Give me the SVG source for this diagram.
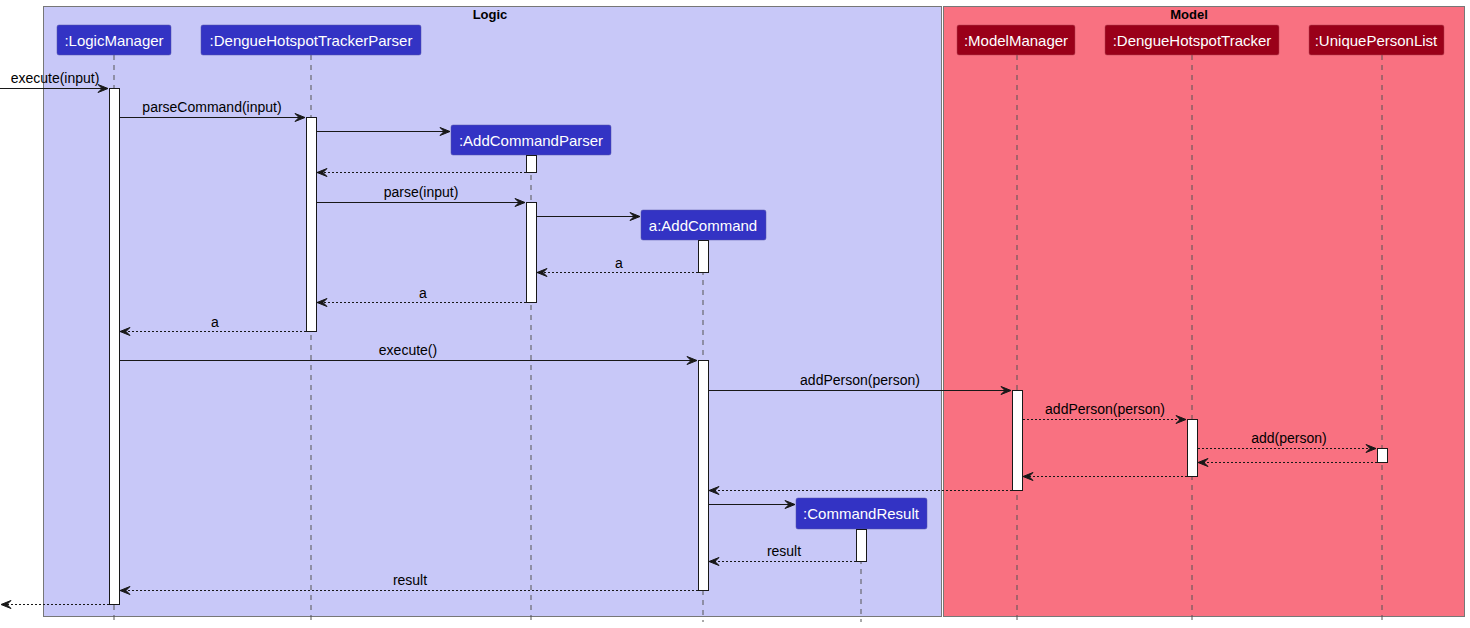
<svg xmlns="http://www.w3.org/2000/svg" width="1470" height="628" viewBox="0 0 1470 628">
<defs>
<marker id="ah" markerWidth="12" markerHeight="10" refX="11" refY="5" orient="auto" markerUnits="userSpaceOnUse">
<polygon points="1,1 11,5 1,9 5,5" fill="#181818" stroke="#181818" stroke-width="1"/>
</marker>
<style>
.frame-l{fill:#C8C8F8;stroke:#777;stroke-width:1}
.frame-m{fill:#F97181;stroke:#777;stroke-width:1}
.ftitle{font-family:"Liberation Sans",Arial,sans-serif;font-size:13px;font-weight:bold;fill:#000;text-anchor:middle}
.pl{fill:#3333C4;stroke:#5555aa;stroke-width:0.5}
.pm{fill:#9A0019;stroke:#b04050;stroke-width:0.5}
.pt{font-family:"Liberation Sans",Arial,sans-serif;font-size:15px;fill:#fff;text-anchor:middle}
.life{stroke:#555;stroke-width:1;stroke-dasharray:5,5}
.act{fill:#fff;stroke:#181818;stroke-width:1}
.msg{stroke:#181818;stroke-width:1;fill:none;marker-end:url(#ah)}
.ret{stroke:#181818;stroke-width:1;fill:none;stroke-dasharray:2,2;marker-end:url(#ah)}
.ml{font-family:"Liberation Sans",Arial,sans-serif;font-size:14px;fill:#000;text-anchor:middle}
</style>
</defs>
<rect width="1470" height="628" fill="#fff"/>
<g id="frame-logic">
<rect class="frame-l" x="43.5" y="6.5" width="898" height="610"/>
<text class="ftitle" x="490" y="19">Logic</text>
</g>
<g id="frame-model">
<rect class="frame-m" x="943.5" y="6.5" width="521" height="610"/>
<text class="ftitle" x="1189" y="19">Model</text>
</g>
<g id="lifelines">
<line class="life" x1="114" y1="55" x2="114" y2="622"/>
<line class="life" x1="311" y1="55" x2="311" y2="622"/>
<line class="life" x1="531" y1="155" x2="531" y2="622"/>
<line class="life" x1="703" y1="240" x2="703" y2="622"/>
<line class="life" x1="861" y1="529" x2="861" y2="622"/>
<line class="life" x1="1017" y1="55" x2="1017" y2="622"/>
<line class="life" x1="1192" y1="55" x2="1192" y2="622"/>
<line class="life" x1="1382" y1="55" x2="1382" y2="622"/>
</g>
<g id="LogicManager">
<rect class="pl" x="57" y="25" width="114" height="30" rx="2"/>
<text class="pt" x="114" y="45.5">:LogicManager</text>
</g>
<g id="DengueHotspotTrackerParser">
<rect class="pl" x="201" y="25" width="220" height="30" rx="2"/>
<text class="pt" x="311" y="45.5">:DengueHotspotTrackerParser</text>
</g>
<g id="AddCommandParser">
<rect class="pl" x="451" y="125" width="160" height="30" rx="2"/>
<text class="pt" x="531" y="145.5">:AddCommandParser</text>
</g>
<g id="AddCommand">
<rect class="pl" x="641" y="210" width="125" height="30" rx="2"/>
<text class="pt" x="703" y="230.5">a:AddCommand</text>
</g>
<g id="CommandResult">
<rect class="pl" x="796" y="498" width="131" height="31" rx="2"/>
<text class="pt" x="861" y="519">:CommandResult</text>
</g>
<g id="ModelManager">
<rect class="pm" x="957" y="25" width="118" height="30" rx="2"/>
<text class="pt" x="1016" y="45.5">:ModelManager</text>
</g>
<g id="DengueHotspotTracker">
<rect class="pm" x="1105" y="25" width="174" height="30" rx="2"/>
<text class="pt" x="1192" y="45.5">:DengueHotspotTracker</text>
</g>
<g id="UniquePersonList">
<rect class="pm" x="1309" y="25" width="135" height="30" rx="2"/>
<text class="pt" x="1376" y="45.5">:UniquePersonList</text>
</g>
<g id="activations">
<rect class="act" x="109.5" y="88.5" width="10" height="516"/>
<rect class="act" x="306.5" y="117.5" width="10" height="214"/>
<rect class="act" x="526.5" y="155.5" width="10" height="17"/>
<rect class="act" x="526.5" y="202.5" width="10" height="100"/>
<rect class="act" x="698.5" y="240.5" width="10" height="32"/>
<rect class="act" x="698.5" y="360.5" width="10" height="230"/>
<rect class="act" x="1012.5" y="390.5" width="10" height="100"/>
<rect class="act" x="1187.5" y="419.5" width="10" height="57"/>
<rect class="act" x="1377.5" y="448.5" width="10" height="14"/>
<rect class="act" x="856.5" y="529.5" width="10" height="32"/>
</g>
<g id="connectors">
<line class="msg" x1="0" y1="88.5" x2="108" y2="88.5"/>
<text class="ml" x="55" y="83">execute(input)</text>
<line class="msg" x1="120" y1="117.5" x2="305" y2="117.5"/>
<text class="ml" x="212" y="112">parseCommand(input)</text>
<line class="msg" x1="317" y1="131.5" x2="450" y2="131.5"/>
<line class="ret" x1="526" y1="172.5" x2="317" y2="172.5"/>
<line class="msg" x1="317" y1="202.5" x2="525" y2="202.5"/>
<text class="ml" x="421" y="197">parse(input)</text>
<line class="msg" x1="537" y1="216.5" x2="640" y2="216.5"/>
<line class="ret" x1="698" y1="272.5" x2="537" y2="272.5"/>
<text class="ml" x="619" y="268">a</text>
<line class="ret" x1="526" y1="302.5" x2="317" y2="302.5"/>
<text class="ml" x="423" y="298">a</text>
<line class="ret" x1="306" y1="331.5" x2="120" y2="331.5"/>
<text class="ml" x="215" y="327">a</text>
<line class="msg" x1="120" y1="360.5" x2="697" y2="360.5"/>
<text class="ml" x="408" y="355">execute()</text>
<line class="msg" x1="709" y1="390.5" x2="1011" y2="390.5"/>
<text class="ml" x="860" y="385">addPerson(person)</text>
<line class="ret" x1="1023" y1="419.5" x2="1186" y2="419.5"/>
<text class="ml" x="1105" y="414">addPerson(person)</text>
<line class="ret" x1="1198" y1="448.5" x2="1376" y2="448.5"/>
<text class="ml" x="1289" y="443">add(person)</text>
<line class="ret" x1="1377" y1="462.5" x2="1198" y2="462.5"/>
<line class="ret" x1="1187" y1="476.5" x2="1023" y2="476.5"/>
<line class="ret" x1="1012" y1="490.5" x2="709" y2="490.5"/>
<line class="msg" x1="709" y1="504.5" x2="795" y2="504.5"/>
<line class="ret" x1="856" y1="561.5" x2="709" y2="561.5"/>
<text class="ml" x="784" y="556">result</text>
<line class="ret" x1="698" y1="590.5" x2="120" y2="590.5"/>
<text class="ml" x="410" y="585">result</text>
<line class="ret" x1="109" y1="604.5" x2="1" y2="604.5"/>
</g>
</svg>
